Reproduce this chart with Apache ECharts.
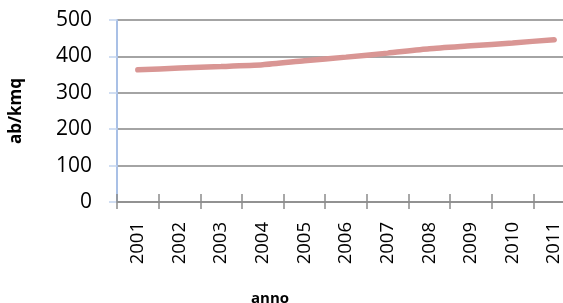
<!DOCTYPE html>
<html>
<head>
<meta charset="utf-8">
<script src="https://cdn.jsdelivr.net/npm/echarts@6/dist/echarts.min.js"></script>
<style>
  html, body { margin: 0; padding: 0; background: #fff; }
  #chart { width: 563px; height: 303px; }
</style>
</head>
<body>
<div id="chart"></div>
<script>
const years = ['2001', '2002', '2003', '2004', '2005', '2006', '2007', '2008', '2009', '2010', '2011']
const density = [363, 368, 372, 377, 388, 398, 409, 421, 429, 437, 446]

const chart = echarts.init(document.getElementById('chart'))

const FONT = '"Open Sans", "Liberation Sans", sans-serif'
const GRID = { left: 117, right: -12, top: 20, bottom: 101, outerBoundsMode: 'none', containLabel: false }

chart.setOption({
  animation: false,
  grid: [GRID, { ...GRID }],
  xAxis: [{
    type: 'category',
    data: years,
    gridIndex: 0,
    name: 'anno',
    nameLocation: 'middle',
    nameGap: 89,
    nameTextStyle: { fontFamily: FONT, fontWeight: 'bold', fontSize: 15, color: '#000', padding: [0, 152, 0, 0] },
    axisLine: { show: true, onZero: false, lineStyle: { color: '#8c8c8c', width: 1.5 } },
    axisTick: { show: true, length: 7, lineStyle: { color: '#8c8c8c', width: 1.5 } },
    axisLabel: { rotate: 90, margin: 20, fontFamily: FONT, fontSize: 18.5, color: '#000' },
  }, {
    // second axis only draws the upper half of the crossing ticks
    type: 'category',
    data: years,
    gridIndex: 1,
    axisLine: { show: false },
    axisTick: { show: true, inside: true, length: 8, lineStyle: { color: '#8c8c8c', width: 1.5 } },
    axisLabel: { show: false },
  }],
  yAxis: [{
    type: 'value',
    gridIndex: 0,
    min: 0,
    max: 500,
    interval: 100,
    name: 'ab/kmq',
    nameLocation: 'middle',
    nameGap: 92,
    nameTextStyle: { fontFamily: FONT, fontWeight: 'bold', fontSize: 17, color: '#000' },
    axisLine: { show: true, lineStyle: { color: '#a9c0e6', width: 2 } },
    axisTick: { show: true, length: 8, lineStyle: { color: '#c2d3ee', width: 1.5 } },
    axisLabel: { margin: 25, fontFamily: FONT, fontSize: 21, color: '#000' },
    splitLine: { lineStyle: { color: '#868686', width: 1.5 } },
  }, {
    type: 'value',
    gridIndex: 1,
    min: 0,
    max: 500,
    show: false,
  }],
  series: [{
    type: 'line',
    xAxisIndex: 0,
    yAxisIndex: 0,
    data: density,
    smooth: 0.2,
    showSymbol: false,
    lineStyle: { color: '#d99694', width: 5.5, cap: 'round' },
    itemStyle: { color: '#d99694' },
  }],
})
</script>
</body>
</html>
